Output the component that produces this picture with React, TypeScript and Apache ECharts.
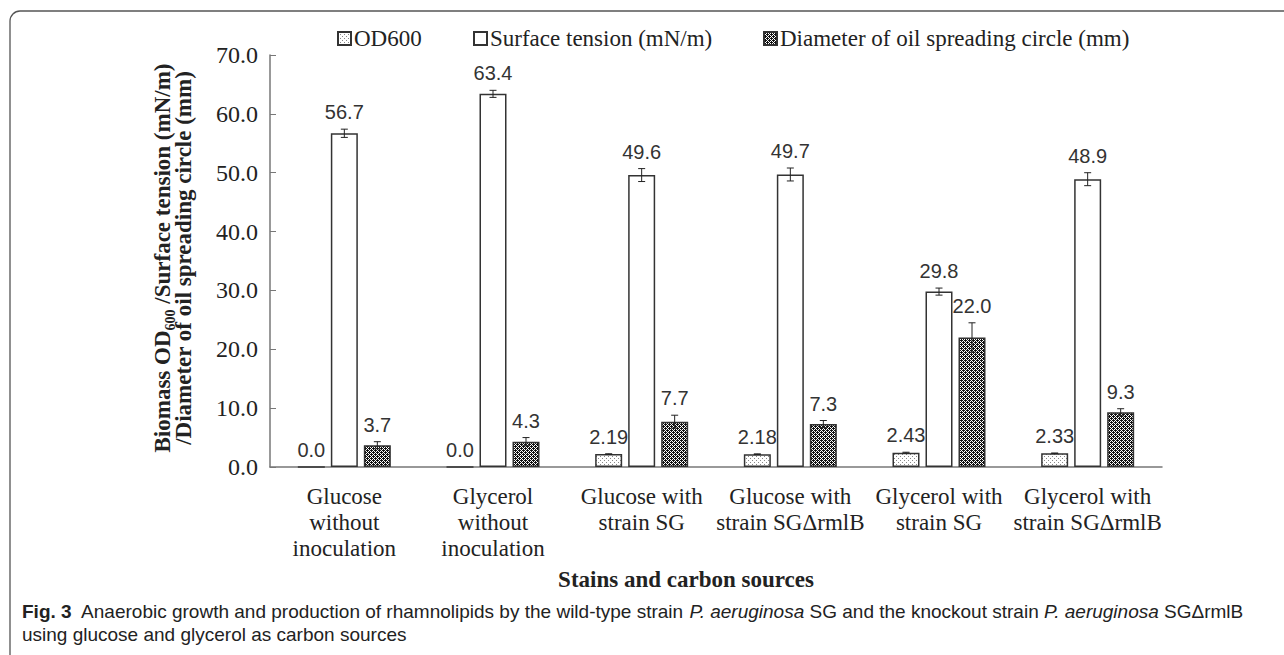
import React, { useEffect, useRef } from "react";
import * as echarts from "echarts";

const categories = [
  "Glucose\nwithout\ninoculation",
  "Glycerol\nwithout\ninoculation",
  "Glucose with\nstrain SG",
  "Glucose with\nstrain SGΔrmlB",
  "Glycerol with\nstrain SG",
  "Glycerol with\nstrain SGΔrmlB",
];
const od600 = [0.0, 0.0, 2.19, 2.18, 2.43, 2.33];
const od600Err = [0, 0, 0.06, 0.05, 0.08, 0.05];
const od600Labels = ["0.0", "0.0", "2.19", "2.18", "2.43", "2.33"];
const surfaceTension = [56.7, 63.4, 49.6, 49.7, 29.8, 48.9];
const surfaceTensionErr = [0.7, 0.6, 1.1, 1.1, 0.6, 1.1];
const oilDiameter = [3.7, 4.3, 7.7, 7.3, 22.0, 9.3];
const oilDiameterErr = [0.6, 0.7, 1.1, 0.6, 2.5, 0.6];
const seriesNames = ["OD600", "Surface tension (mN/m)", "Diameter of oil spreading circle (mm)"];
const yTicks = { min: 0, max: 70, interval: 10 };

function makePattern(kind: "light" | "dark") {
  const c = document.createElement("canvas");
  c.width = 4;
  c.height = 4;
  const ctx = c.getContext("2d")!;
  if (kind === "dark") {
    ctx.fillStyle = "#fff";
    ctx.fillRect(0, 0, 4, 4);
    ctx.fillStyle = "#111";
    [[0, 0], [1, 1], [2, 2], [3, 3], [2, 0], [3, 1], [0, 2], [1, 3], [1, 0], [3, 2]].forEach(([x, y]) =>
      ctx.fillRect(x, y, 1, 1)
    );
  } else {
    ctx.fillStyle = "#fff";
    ctx.fillRect(0, 0, 4, 4);
    ctx.fillStyle = "#888";
    [[0, 0], [2, 2]].forEach(([x, y]) => ctx.fillRect(x, y, 1, 1));
  }
  return { image: c, repeat: "repeat", imageWidth: 4, imageHeight: 4 } as any;
}

const SERIF = "'Liberation Serif', 'Times New Roman', serif";
const SANS = "'Liberation Sans', Arial, sans-serif";
const BAR_W = 27;
const GAP = 6;

export default function App() {
  const ref = useRef<HTMLDivElement>(null);
  useEffect(() => {
    document.body.style.margin = "0";
    const chart = echarts.init(ref.current!, null, { renderer: "svg" });
    const light = makePattern("light");
    const dark = makePattern("dark");
    const values = [od600, surfaceTension, oilDiameter];
    const errs = [od600Err, surfaceTensionErr, oilDiameterErr];
    const fills = [light, "#fff", dark];

    const errSeries = values.map((vals, si) => ({
      type: "custom",
      name: seriesNames[si] + " err",
      z: 5,
      silent: true,
      data: vals.map((v, i) => [i, v, errs[si][i]]),
      renderItem: (_p: any, api: any) => {
        const idx = api.value(0);
        const v = api.value(1);
        const e = api.value(2);
        const off = (si - 1) * (BAR_W + GAP);
        const top = api.coord([idx, v + e]);
        const bot = api.coord([idx, v - e]);
        const x = top[0] + off;
        const label = si === 0 ? od600Labels[idx] : v.toFixed(1);
        const children: any[] = [];
        if (e > 0) {
          children.push(
            { type: "line", shape: { x1: x, y1: top[1], x2: x, y2: bot[1] }, style: { stroke: "#222", lineWidth: 1 } },
            { type: "line", shape: { x1: x - 3.5, y1: top[1], x2: x + 3.5, y2: top[1] }, style: { stroke: "#222", lineWidth: 1 } },
            { type: "line", shape: { x1: x - 3.5, y1: bot[1], x2: x + 3.5, y2: bot[1] }, style: { stroke: "#222", lineWidth: 1 } }
          );
        }
        children.push({
          type: "text",
          x: x,
          y: top[1] - 7,
          style: {
            text: label,
            fill: "#333",
            font: `20px ${SANS}`,
            textAlign: "center",
            textVerticalAlign: "bottom",
          },
        });
        return { type: "group", children };
      },
    }));

    const barSeries = values.map((vals, si) => ({
      type: "bar",
      name: seriesNames[si],
      data: vals,
      barWidth: BAR_W,
      barGap: `${(GAP / BAR_W) * 100}%`,
      itemStyle: { color: fills[si], borderColor: "#333", borderWidth: 1.5 },
    }));

    const legendLefts = [332, 468, 758];
    const legends = seriesNames.map((n, i) => ({
      data: [n],
      top: 22,
      left: legendLefts[i],
      icon: "rect",
      itemWidth: 13,
      itemHeight: 13,
      selectedMode: false,
      textStyle: { fontFamily: SERIF, fontSize: 23, color: "#222", padding: [0, 0, 0, -2] },
    }));

    chart.setOption({
      animation: false,
      legend: legends,
      grid: { left: 270, right: 122, top: 55, bottom: 188 },
      xAxis: {
        type: "category",
        data: categories,
        axisLine: { lineStyle: { color: "#777", width: 1.5 } },
        axisTick: { show: false },
        axisLabel: {
          fontFamily: SERIF,
          fontSize: 23,
          color: "#222",
          lineHeight: 26,
          margin: 16,
          interval: 0,
        },
      },
      yAxis: {
        type: "value",
        min: yTicks.min,
        max: yTicks.max,
        interval: yTicks.interval,
        splitLine: { show: false },
        axisLine: { show: true, lineStyle: { color: "#777", width: 1.5 } },
        axisTick: { show: true, inside: true, length: 6, lineStyle: { color: "#777" } },
        axisLabel: {
          fontFamily: SERIF,
          fontSize: 24,
          color: "#222",
          margin: 12,
          formatter: (v: number) => v.toFixed(1),
        },
      },
      graphic: [
        {
          type: "rect",
          shape: { x: 10, y: 11, width: 1400, height: 800, r: 10 },
          style: { fill: "none", stroke: "#555", lineWidth: 1.3 },
          silent: true,
        },
        {
          type: "text",
          x: 686,
          y: 579,
          style: {
            text: "Stains and carbon sources",
            font: `bold 23px ${SERIF}`,
            fill: "#222",
            textAlign: "center",
            textVerticalAlign: "middle",
          },
        },
        {
          type: "text",
          x: 162,
          y: 258,
          rotation: Math.PI / 2,
          style: {
            text: "{b|Biomass OD}{s|600}{b| /Surface tension (mN/m)}",
            textAlign: "center",
            textVerticalAlign: "middle",
            rich: {
              b: { font: `bold 23px ${SERIF}`, fill: "#222", lineHeight: 24 },
              s: { font: `bold 14px ${SERIF}`, fill: "#222", verticalAlign: "bottom", lineHeight: 16, padding: [0, 0, -3, 0] },
            },
          },
        },
        {
          type: "text",
          x: 183,
          y: 258,
          rotation: Math.PI / 2,
          style: {
            text: "/Diameter of oil spreading circle (mm)",
            font: `bold 23px ${SERIF}`,
            fill: "#222",
            textAlign: "center",
            textVerticalAlign: "middle",
          },
        },
        {
          type: "text",
          x: 22,
          y: 600,
          style: {
            text:
              "{b|Fig. 3}  Anaerobic growth and production of rhamnolipids by the wild-type strain {i|P. aeruginosa} SG and the knockout strain {i|P. aeruginosa} SGΔrmlB\nusing glucose and glycerol as carbon sources",
            font: `19px ${SANS}`,
            fill: "#222",
            textVerticalAlign: "top",
            lineHeight: 23,
            rich: {
              b: { font: `bold 19px ${SANS}`, fill: "#222" },
              i: { font: `italic 19px ${SANS}`, fill: "#222" },
            },
          },
        },
      ],
      series: [...barSeries, ...errSeries],
    });
    return () => chart.dispose();
  }, []);
  return <div ref={ref} style={{ width: 1284, height: 655 }} />;
}
